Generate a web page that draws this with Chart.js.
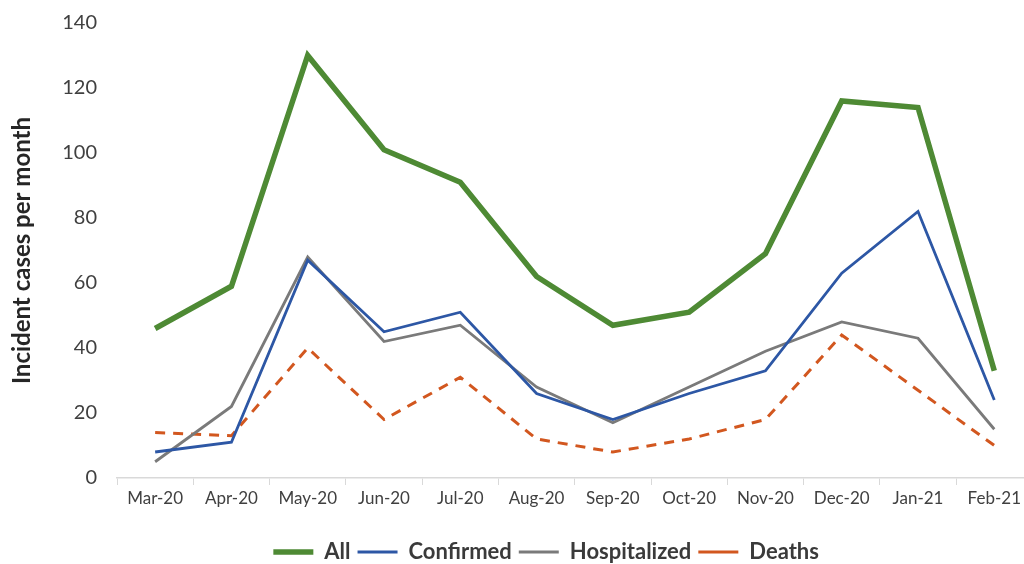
<!DOCTYPE html>
<html>
<head>
<meta charset="utf-8">
<script src="https://cdn.jsdelivr.net/npm/chart.js@4"></script>
<style>
  html, body { margin: 0; padding: 0; background: #fff; }
  #wrap { width: 1024px; height: 564px; }
</style>
</head>
<body>
<div id="wrap"><canvas id="chart"></canvas></div>
<script>
const months = ['Mar-20', 'Apr-20', 'May-20', 'Jun-20', 'Jul-20', 'Aug-20', 'Sep-20', 'Oct-20', 'Nov-20', 'Dec-20', 'Jan-21', 'Feb-21'];
const allCases = [46, 59, 130, 101, 91, 62, 47, 51, 69, 116, 114, 33];
const confirmed = [8, 11, 67, 45, 51, 26, 18, 26, 33, 63, 82, 24];
const hospitalized = [5, 22, 68, 42, 47, 28, 17, 28, 39, 48, 43, 15];
const deaths = [14, 13, 40, 18, 31, 12, 8, 12, 18, 44, 27, 10];

const FONT = 'Lato, "Open Sans", sans-serif';

// month index as x, so the last category can run past the canvas edge like the original
const pts = arr => arr.map((v, i) => ({ x: i, y: v }));

// nudge the legend a bit left, the original isn't centred on the plot
const legendShift = {
    id: 'legendShift',
    afterLayout(chart) {
        chart.legend.left -= 24;
        chart.legend.right -= 24;
    }
};

new Chart(document.getElementById('chart'), {
    type: 'line',
    data: {
        datasets: [
            { label: 'All', data: pts(allCases), borderColor: '#4E8A34', backgroundColor: '#4E8A34', borderWidth: 5.5 },
            { label: 'Confirmed', data: pts(confirmed), borderColor: '#2D57A5', backgroundColor: '#2D57A5', borderWidth: 2.8 },
            { label: 'Hospitalized', data: pts(hospitalized), borderColor: '#7A7A7A', backgroundColor: '#7A7A7A', borderWidth: 2.8 },
            { label: 'Deaths', data: pts(deaths), borderColor: '#D2571F', backgroundColor: '#D2571F', borderWidth: 3, borderDash: [10, 8] }
        ]
    },
    plugins: [legendShift],
    options: {
        responsive: true,
        maintainAspectRatio: false,
        animation: false,
        elements: { point: { radius: 0 }, line: { tension: 0, borderJoinStyle: 'miter' } },
        layout: { padding: { top: 23, right: 0, left: 8, bottom: -9 } },
        plugins: {
            tooltip: { enabled: false },
            legend: {
                position: 'bottom',
                fullSize: false,
                labels: {
                    usePointStyle: true,
                    pointStyle: 'line',
                    pointStyleWidth: 40,
                    boxHeight: 21,
                    padding: 7,
                    color: '#3a3a3a',
                    font: { family: FONT, size: 22, weight: 'bold' }
                }
            }
        },
        scales: {
            x: {
                type: 'linear',
                min: -0.5,
                max: 11.38,
                afterBuildTicks: function(scale) {
                    const t = [];
                    for (let i = -0.5; i <= 11; i += 0.5) t.push({ value: i });
                    scale.ticks = t;
                },
                grid: {
                    drawOnChartArea: false,
                    tickLength: 7,
                    color: ctx => (ctx.tick && Number.isInteger(ctx.tick.value)) ? 'rgba(0,0,0,0)' : '#d9d9d9'
                },
                border: { color: '#d9d9d9', width: 1.5 },
                ticks: {
                    autoSkip: false,
                    maxRotation: 0,
                    color: '#404040',
                    font: { family: FONT, size: 17 },
                    padding: 3,
                    callback: v => Number.isInteger(v) ? months[v] : ''
                },
                afterFit: function(scale) { scale.height = 56; }
            },
            y: {
                min: 0,
                max: 140,
                ticks: { stepSize: 20, color: '#404040', font: { family: FONT, size: 20 }, padding: 20 },
                grid: { display: false, drawTicks: false },
                border: { display: false },
                title: {
                    display: true,
                    text: 'Incident cases per month',
                    color: '#262626',
                    font: { family: FONT, size: 24, weight: 'bold' },
                    padding: { top: 0, bottom: 2 }
                },
                afterFit: function(scale) {
                    scale.width = 109;
                    scale.paddingTop = 0;
                    scale.paddingBottom = 0;
                }
            }
        }
    }
});
</script>
</body>
</html>
